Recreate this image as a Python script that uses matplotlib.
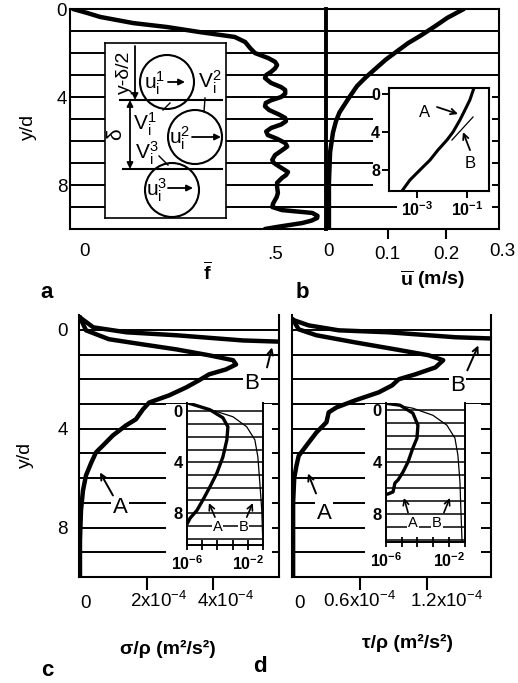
import numpy as np
import matplotlib
matplotlib.use('Agg')
import matplotlib.pyplot as plt
from matplotlib.patches import Rectangle, Circle
from matplotlib.transforms import ScaledTranslation, blended_transform_factory
from matplotlib.ticker import NullLocator

plt.rcParams['font.family'] = ['Liberation Sans', 'DejaVu Sans']
plt.rcParams['mathtext.fontset'] = 'custom'
plt.rcParams['mathtext.rm'] = 'Liberation Sans'
plt.rcParams['mathtext.bf'] = 'Liberation Sans:bold'
plt.rcParams['mathtext.it'] = 'Liberation Sans:italic'
plt.rcParams['mathtext.sf'] = 'Liberation Sans'

# ---------------- data ----------------
yd_grid = list(range(11))
ytick_main = ['0', '', '', '', '4', '', '', '', '8', '', '']

# panel a: mean solid fraction f
f_yd = [0, 0.18, 0.36, 0.64, 0.82, 1.05, 1.27, 1.5, 1.77, 2.0, 2.23, 2.4, 2.55, 2.7, 2.86, 3.0,
        3.14, 3.36, 3.55, 3.68, 3.85, 4.0, 4.15, 4.27, 4.42, 4.59, 4.8, 4.95, 5.1, 5.25, 5.41,
        5.57, 5.73, 5.9, 6.09, 6.25, 6.45, 6.64, 6.86, 7.0, 7.18, 7.41, 7.55, 7.68, 7.9, 8.09,
        8.36, 8.55, 8.68, 8.85, 9.0, 9.14, 9.27, 9.4, 9.5, 9.62, 9.73, 9.9, 10.0]
f_val = [0, 0.035, 0.067, 0.149, 0.233, 0.314, 0.40, 0.426, 0.438, 0.45, 0.483, 0.50, 0.505, 0.50,
         0.49, 0.478, 0.475, 0.49, 0.515, 0.525, 0.525, 0.515, 0.49, 0.477, 0.475, 0.485, 0.51,
         0.525, 0.527, 0.515, 0.49, 0.478, 0.482, 0.505, 0.525, 0.53, 0.515, 0.50, 0.493, 0.497,
         0.512, 0.532, 0.527, 0.517, 0.505, 0.505, 0.507, 0.504, 0.50, 0.495, 0.493, 0.517,
         0.592, 0.605, 0.604, 0.59, 0.567, 0.507, 0.475]

# panel b: mean velocity u (m/s)
u_yd = [0, 0.4, 0.8, 1.2, 1.55, 2.3, 2.7, 3.1, 3.5, 4.0, 4.7, 5.1, 5.6, 6.5, 7.9, 10]
u_val = [0.23, 0.202, 0.18, 0.157, 0.135, 0.097, 0.08, 0.063, 0.048, 0.035, 0.018, 0.012, 0.007, 0.002, 0, 0]

# panel b inset (log u)
insb_A_yd = [-0.63, 0.63, 1.68, 2.74, 4.0, 4.84, 5.89, 6.95, 8.0, 9.05, 10.2]
insb_A_u = [0.19, 0.13, 0.083, 0.052, 0.0275, 0.0158, 0.0069, 0.0033, 0.0013, 5.2e-4, 2.5e-4]
insb_B_yd = [4.84, 2.42]
insb_B_u = [0.025, 0.174]

# panel c: sigma/rho (1e-4 m2/s2)
sig_A_yd = [-0.5, 0.02, 0.38, 0.59, 0.79, 1.03, 1.23, 1.40, 1.60, 1.80, 2.04, 2.33, 2.65, 2.94,
            3.22, 3.62, 3.87, 4.27, 4.68, 4.96, 5.40, 5.89, 6.50, 7.3, 8.5, 10]
sig_A = [0, 0.18, 0.87, 1.89, 2.89, 3.88, 4.6, 4.69, 4.39, 3.88, 3.58, 3.19, 2.68, 2.08,
         1.89, 1.68, 1.38, 0.99, 0.69, 0.48, 0.33, 0.18, 0.09, 0.03, 0, 0]
sig_B_yd = [-0.5, -0.1, 0.1, 0.22, 0.43, 0.5, 0.6]
sig_B = [0, 0.4, 1.4, 2.9, 4.9, 6.5, 9.0]

# panel c inset (log scale, m2/s2)
insc_A_yd = [-0.69, -0.13, 0.50, 1.21, 2.23, 3.58, 4.84, 5.94, 6.97, 7.76, 8.39, 8.86]
insc_A = [1e-6, 3.2e-5, 2.3e-4, 4.9e-4, 4.2e-4, 2.3e-4, 9.3e-5, 3.2e-5, 1.1e-5, 4.6e-6, 1.6e-6, 1e-6]
insc_B_yd = [-0.69, 0.02, 0.42, 1.21, 2.23, 3.58, 5.63, 7.76, 9.89]
insc_B = [1e-6, 9.3e-5, 1.05e-3, 8.5e-3, 0.029, 0.046, 0.062, 0.083, 0.095]

# panel d: tau/rho (1e-4 m2/s2)
tau_A_yd = [-0.4, -0.02, 0.22, 0.51, 0.79, 1.03, 1.23, 1.52, 1.80, 2.0, 2.25, 2.53, 2.85,
            3.14, 3.34, 3.74, 4.15, 4.68, 5.1, 5.5, 6.0, 7.0, 10]
tau_A = [0, 0.05, 0.21, 0.56, 0.92, 1.22, 1.35, 1.28, 1.10, 0.95, 0.89, 0.77, 0.56,
         0.39, 0.32, 0.30, 0.21, 0.12, 0.05, 0.03, 0.01, 0, 0]
tau_B_yd = [-0.4, -0.18, 0.02, 0.1, 0.3, 0.36, 0.5]
tau_B = [0, 0.14, 0.41, 0.86, 1.46, 1.85, 2.5]

# panel d inset
insd_A_yd = [-0.48, -0.33, 0.28, 1.2, 2.19, 2.95, 4.02, 4.79, 5.4, 5.63, 6.31, 6.47, 6.5]
insd_A = [1e-6, 7.8e-6, 5.1e-5, 1.07e-4, 9.3e-5, 5.1e-5, 2.5e-5, 1.2e-5, 5.8e-6, 3.7e-6, 2.8e-6, 1.35e-6, 1e-6]
insd_B_yd = [-0.48, -0.10, 0.44, 1.2, 2.19, 3.49, 5.55, 7.84, 10.13]
insd_B = [1e-6, 5.1e-5, 9.5e-4, 7.4e-3, 0.024, 0.037, 0.050, 0.058, 0.068]

# tick labels
c_ticks = [2e-4, 4e-4]
c_labels = [r'$2\mathrm{x}10^{-4}$', r'$4\mathrm{x}10^{-4}$']
d_ticks = [0.6e-4, 1.2e-4]
d_labels = [r'$0.6\mathrm{x}10^{-4}$', r'$1.2\mathrm{x}10^{-4}$']

# ---------------- figure ----------------
W, H = 518, 683
fig = plt.figure(figsize=(W / 100, H / 100), dpi=100)


def box(l, t, r, b):
    return [l / W, 1 - b / H, (r - l) / W, (b - t) / H]


def fx(x):
    return x / W


def fy(y):
    return 1 - y / H


TICK = 13.5
LW_CURVE = 3.2
LW_GRID = 1.4


def main_axes(rect, ylim):
    ax = fig.add_axes(rect)
    ax.set_ylim(*ylim)
    ax.set_yticks(yd_grid)
    ax.set_yticklabels(ytick_main)
    ax.yaxis.grid(True, color='k', lw=LW_GRID)
    ax.set_axisbelow(True)
    ax.tick_params(axis='y', length=0, labelsize=TICK)
    for s in ax.spines.values():
        s.set_linewidth(1.5)
    return ax


def white_rect(ax, l, t, r, b):
    ax.add_patch(Rectangle((fx(l), fy(b)), (r - l) / W, (b - t) / H, transform=fig.transFigure,
                           facecolor='white', edgecolor='none', zorder=1))


def xtext(ax, x, s, dx, dy, size=TICK, **kw):
    tr = blended_transform_factory(ax.transData, ax.transAxes) + \
        ScaledTranslation(dx / 100, -dy / 100, fig.dpi_scale_trans)
    ax.text(x, 0, s, transform=tr, ha='center', va='center', fontsize=size, clip_on=False, **kw)


# ---- panel a ----
axA = main_axes(box(70, 9, 326, 229), (10, 0))
axA.set_xlim(-0.0074, 0.626)
axA.plot(f_val, f_yd, 'k', lw=LW_CURVE, solid_joinstyle='round', solid_capstyle='round', zorder=3)
axA.set_xticks([0.5])
axA.set_xticklabels(['.5'])
axA.tick_params(axis='x', length=0, pad=12, labelsize=TICK)
axA.tick_params(axis='y', pad=2)
xtext(axA, 0, '0', 12, 23)

# ---- panel b ----
axB = main_axes(box(326, 9, 499, 229), (10, 0))
axB.set_xlim(-0.005, 0.29)
axB.plot(u_val, u_yd, 'k', lw=LW_CURVE, solid_joinstyle='round', solid_capstyle='round', zorder=3)
axB.set_yticklabels([])
axB.spines['left'].set_linewidth(2.8)
axB.set_xticks([0.1, 0.2])
axB.set_xticklabels(['0.1', '0.2'])
axB.tick_params(axis='x', direction='out', length=7, width=1.5, pad=5, labelsize=TICK)
xtext(axB, 0, '0', 0, 23)
xtext(axB, 0.3, '0.3', -3, 23)
white_rect(axB, 373, 86, 492, 200)
white_rect(axB, 397, 199, 492, 216)

# panel b inset
ib = fig.add_axes(box(389, 88, 489, 191))
ib.set_xscale('log')
ib.set_xlim(10 ** -4.12, 10 ** -0.12)
ib.set_ylim(10.2, -0.63)
ib.plot(insb_A_u, insb_A_yd, 'k', lw=2.2)
ib.plot(insb_B_u, insb_B_yd, 'k', lw=0.9)
ib.set_xticks([1e-3, 1e-1])
ib.set_xticklabels([r'$\mathbf{10^{-3}}$', r'$\mathbf{10^{-1}}$'])
ib.xaxis.set_minor_locator(NullLocator())
ib.set_yticks([0, 4, 8])
ib.set_yticklabels(['0', '4', '8'], fontweight='bold')
ib.tick_params(direction='out', length=5, width=1.4, labelsize=11.5, pad=1.5)
for s in ib.spines.values():
    s.set_linewidth(1.5)
ib.text(10 ** -2.68, 1.9, 'A', fontsize=12, ha='center', va='center')
ib.annotate('', xy=(10 ** -1.36, 2.1), xytext=(10 ** -2.2, 1.37),
            arrowprops=dict(arrowstyle='->', lw=1.3, color='k', shrinkA=0, shrinkB=0))
ib.text(10 ** -0.88, 7.3, 'B', fontsize=12, ha='center', va='center')
ib.annotate('', xy=(10 ** -1.16, 4.0), xytext=(10 ** -0.88, 5.9),
            arrowprops=dict(arrowstyle='->', lw=1.3, color='k', shrinkA=0, shrinkB=0))

# panel a schematic
sch = fig.add_axes(box(105, 43, 226, 218))
sch.set_xlim(105, 226)
sch.set_ylim(218, 43)
sch.set_xticks([])
sch.set_yticks([])
for s in sch.spines.values():
    s.set_linewidth(1.2)
for (cx, cy) in [(167, 82), (195, 137), (172, 190)]:
    sch.add_patch(Circle((cx, cy), 27, fill=False, lw=1.5, ec='k'))
sch.plot([120, 222], [100, 100], 'k', lw=1.5)
sch.plot([123, 222], [169, 169], 'k', lw=1.5)
ap = dict(arrowstyle='-|>', lw=1.3, color='k', shrinkA=0, shrinkB=0, mutation_scale=9)
sch.annotate('', xy=(135, 100), xytext=(135, 46), arrowprops=ap)
sch.annotate('', xy=(130, 100), xytext=(130, 169),
             arrowprops=dict(arrowstyle='<|-|>', lw=1.3, color='k', shrinkA=0, shrinkB=0, mutation_scale=9))
sch.text(124, 72, 'y-δ/2', rotation=90, fontsize=14, ha='center', va='center')
sch.text(116, 134, 'δ', rotation=90, fontsize=15, ha='center', va='center')
SF = 15
sch.text(155, 83, r'$\mathrm{u}_\mathrm{i}^\mathrm{1}$', fontsize=SF, ha='center', va='center')
sch.annotate('', xy=(185, 82), xytext=(168, 82), arrowprops=ap)
sch.text(180, 138, r'$\mathrm{u}_\mathrm{i}^\mathrm{2}$', fontsize=SF, ha='center', va='center')
sch.annotate('', xy=(221, 137), xytext=(192, 137), arrowprops=ap)
sch.text(157, 190, r'$\mathrm{u}_\mathrm{i}^\mathrm{3}$', fontsize=SF, ha='center', va='center')
sch.annotate('', xy=(193, 188), xytext=(168, 188), arrowprops=ap)
sch.text(210, 82, r'$\mathrm{V}_\mathrm{i}^\mathrm{2}$', fontsize=SF, ha='center', va='center')
sch.text(145, 124, r'$\mathrm{V}_\mathrm{i}^\mathrm{1}$', fontsize=SF, ha='center', va='center')
sch.text(147, 153, r'$\mathrm{V}_\mathrm{i}^\mathrm{3}$', fontsize=SF, ha='center', va='center')
sch.plot([205, 204], [98, 112], 'k', lw=1)
sch.plot([163, 170], [110, 103], 'k', lw=1)
sch.plot([159, 168], [156, 165], 'k', lw=1)

# ---- panel c ----
axC = main_axes(box(79, 315, 279, 577), (10, -0.6))
axC.set_xlim(-0.03e-4, 5.98e-4)
axC.spines['top'].set_visible(False)
axC.plot(np.array(sig_A) * 1e-4, sig_A_yd, 'k', lw=LW_CURVE, solid_joinstyle='round', zorder=3)
axC.plot(np.array(sig_B) * 1e-4, sig_B_yd, 'k', lw=LW_CURVE, solid_joinstyle='round', zorder=3)
axC.set_xticks(c_ticks)
axC.set_xticklabels([])
axC.tick_params(axis='x', direction='out', length=9, width=1.5)
axC.tick_params(axis='y', pad=8)
xtext(axC, 0, '0', 6, 27)
for xv, lab, dx in zip(c_ticks, c_labels, [12, 13]):
    xtext(axC, xv, lab, dx, 24)
white_rect(axC, 166, 404, 272, 576)
tb = dict(facecolor='white', edgecolor='none', pad=1)
axC.text(5.17e-4, 2.17, 'B', fontsize=16, ha='center', va='center', bbox=tb, zorder=4)
axC.annotate('', xy=(5.77e-4, 0.71), xytext=(5.62e-4, 1.52),
             arrowprops=dict(arrowstyle='->', lw=1.4, color='k', shrinkA=0, shrinkB=0), zorder=4)
axC.text(1.2e-4, 7.19, 'A', fontsize=16, ha='center', va='center', bbox=tb, zorder=4)
axC.annotate('', xy=(0.6e-4, 5.77), xytext=(0.99e-4, 6.7),
             arrowprops=dict(arrowstyle='->', lw=1.4, color='k', shrinkA=0, shrinkB=0), zorder=4)

# ---- panel d ----
axD = main_axes(box(292, 315, 491, 577), (10, -0.6))
axD.set_xlim(-0.01e-4, 1.78e-4)
axD.spines['top'].set_visible(False)
axD.set_yticklabels([])
axD.plot(np.array(tau_A) * 1e-4, tau_A_yd, 'k', lw=LW_CURVE, solid_joinstyle='round', zorder=3)
axD.plot(np.array(tau_B) * 1e-4, tau_B_yd, 'k', lw=LW_CURVE, solid_joinstyle='round', zorder=3)
axD.set_xticks(d_ticks)
axD.set_xticklabels([])
axD.tick_params(axis='x', direction='out', length=9, width=1.5)
xtext(axD, 0, '0', 6, 27)
for xv, lab, dx in zip(d_ticks, d_labels, [0, 20]):
    xtext(axD, xv, lab, dx, 24)
white_rect(axD, 365, 404, 481, 576)
axD.text(1.478e-4, 2.25, 'B', fontsize=16, ha='center', va='center', bbox=tb, zorder=4)
axD.annotate('', xy=(1.666e-4, 0.63), xytext=(1.567e-4, 1.64),
             arrowprops=dict(arrowstyle='->', lw=1.4, color='k', shrinkA=0, shrinkB=0), zorder=4)
axD.text(0.278e-4, 7.43, 'A', fontsize=16, ha='center', va='center', bbox=tb, zorder=4)
axD.annotate('', xy=(0.134e-4, 5.81), xytext=(0.206e-4, 6.62),
             arrowprops=dict(arrowstyle='->', lw=1.4, color='k', shrinkA=0, shrinkB=0), zorder=4)


def log_inset(rect, xlim, ylim):
    a = fig.add_axes(rect)
    a.set_xscale('log')
    a.set_xlim(*xlim)
    a.set_ylim(*ylim)
    a.set_yticks(yd_grid)
    a.set_yticklabels(ytick_main, fontweight='bold')
    a.yaxis.grid(True, color='k', lw=1.1)
    a.set_axisbelow(True)
    a.tick_params(axis='y', length=0, labelsize=12, pad=3)
    a.set_xticks([1e-6, 1e-5, 1e-4, 1e-3, 1e-2, 1e-1])
    a.set_xticklabels([r'$\mathbf{10^{-6}}$', '', '', '', r'$\mathbf{10^{-2}}$', ''])
    a.xaxis.set_minor_locator(NullLocator())
    a.tick_params(axis='x', direction='inout', length=7, width=1.3, labelsize=11.5, pad=3)
    a.spines['top'].set_visible(False)
    for s in a.spines.values():
        s.set_linewidth(1.4)
    return a


ic = log_inset(box(187, 403, 263, 545), (1e-6, 10 ** -1.02), (10.5, -0.66))
ic.plot(insc_A, insc_A_yd, 'k', lw=2.4, zorder=3)
ic.plot(insc_B, insc_B_yd, 'k', lw=0.9, zorder=3)
tb2 = dict(facecolor='white', edgecolor='none', pad=0.5)
ic.text(10 ** -3.97, 9.1, 'A', fontsize=10.5, ha='center', va='center', bbox=tb2, zorder=4)
ic.text(10 ** -2.26, 9.1, 'B', fontsize=10.5, ha='center', va='center', bbox=tb2, zorder=4)
ic.annotate('', xy=(10 ** -4.56, 7.2), xytext=(10 ** -4.16, 8.31),
            arrowprops=dict(arrowstyle='->', lw=1.2, color='k', shrinkA=0, shrinkB=0))
ic.annotate('', xy=(10 ** -1.67, 7.2), xytext=(10 ** -2.07, 8.31),
            arrowprops=dict(arrowstyle='->', lw=1.2, color='k', shrinkA=0, shrinkB=0))

idd = log_inset(box(386, 403, 465, 542), (1e-6, 10 ** -0.98), (10.15, -0.5))
idd.plot(insd_A, insd_A_yd, 'k', lw=2.4, zorder=3)
idd.plot(insd_B, insd_B_yd, 'k', lw=0.9, zorder=3)
idd.text(10 ** -4.29, 8.68, 'A', fontsize=10.5, ha='center', va='center', bbox=tb2, zorder=4)
idd.text(10 ** -2.76, 8.68, 'B', fontsize=10.5, ha='center', va='center', bbox=tb2, zorder=4)
idd.annotate('', xy=(10 ** -4.86, 6.77), xytext=(10 ** -4.6, 7.9),
             arrowprops=dict(arrowstyle='->', lw=1.2, color='k', shrinkA=0, shrinkB=0))
idd.annotate('', xy=(10 ** -1.94, 6.77), xytext=(10 ** -2.32, 7.9),
             arrowprops=dict(arrowstyle='->', lw=1.2, color='k', shrinkA=0, shrinkB=0))

# ---- labels ----
fig.text(fx(28), fy(127), 'y/d', rotation=90, fontsize=14, ha='center', va='center')
fig.text(fx(25), fy(455), 'y/d', rotation=90, fontsize=14, ha='center', va='center')
fig.text(fx(207), fy(272), r'$\overline{\mathbf{f}}$', fontsize=14, ha='center', va='center')
fig.text(fx(432), fy(280), r'$\overline{\mathbf{u}}$ (m/s)', fontsize=14, fontweight='bold',
         ha='center', va='center')
fig.text(fx(168), fy(649), 'σ/ρ (m²/s²)', fontsize=14, fontweight='bold', ha='center', va='center')
fig.text(fx(407), fy(643), 'τ/ρ (m²/s²)', fontsize=14, fontweight='bold', ha='center', va='center')
for s, x, y in [('a', 47, 293), ('b', 302, 293), ('c', 47, 670), ('d', 260, 666)]:
    fig.text(fx(x), fy(y), s, fontsize=16, fontweight='bold', ha='center', va='center')

fig.savefig('out.png', dpi=100)
